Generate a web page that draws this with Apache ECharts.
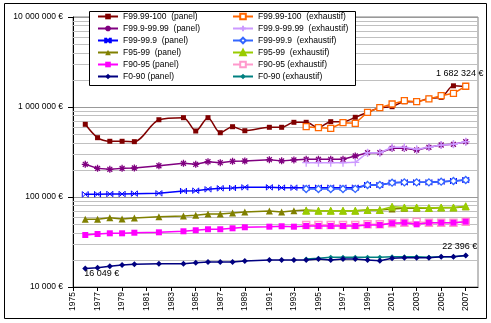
<!DOCTYPE html>
<html>
<head>
<meta charset="utf-8">
<script src="https://cdn.jsdelivr.net/npm/echarts@6/dist/echarts.min.js"></script>
<style>
html,body{margin:0;padding:0;background:#fff;}
#c{width:491px;height:323px;}
</style>
</head>
<body>
<div id="c"></div>
<script>
// ---- data ----
var categories = ['1975','1976','1977','1978','1979','1980','1981','1982','1983','1984','1985','1986','1987','1988','1989','1990','1991','1992','1993','1994','1995','1996','1997','1998','1999','2000','2001','2002','2003','2004','2005','2006','2007','2008'];
var panelYears = ['1976','1977','1978','1979','1980','1982','1984','1985','1986','1987','1988','1989','1991','1992','1993','1994','1995','1996','1997','1998','1999','2000','2001','2002','2003','2004','2005','2006','2007'];
var exhYears = ['1994','1995','1996','1997','1998','1999','2000','2001','2002','2003','2004','2005','2006','2007'];

var p9999_100 = [642000,456000,416000,416000,412000,722000,761000,541000,761000,518000,604000,545000,595000,595000,676000,676000,589000,687000,687000,768000,873000,983000,1008000,1145000,1145000,1250000,1280000,1720000,1682324];
var p999_9999 = [230700,208000,203000,208000,210000,222600,236800,230700,246800,240500,249000,251000,260000,252000,258000,262400,262400,262400,262400,285500,310700,310700,347600,347600,332700,356700,378000,385000,411600];
var p99_999 = [107000,107500,108000,108000,109000,109900,116600,117500,121800,125000,125900,128100,128100,127000,126900,126900,126900,126900,126900,126900,135900,135900,144200,145500,145500,145500,148000,150600,154400];
var p95_99 = [56500,56500,58900,56900,58400,60400,61500,62600,64700,64700,66400,68100,69900,68100,70400,71700,70400,70400,70400,70400,71700,71700,73600,74900,74900,74900,76100,76100,78000];
var p90_95 = [37800,38800,39500,39500,40100,40500,41600,42700,43800,43800,44900,46100,46800,47300,46800,47600,47600,47600,47600,47600,48900,48900,51100,51800,49700,51800,51800,51800,53200];
var p0_90 = [16049,16400,17000,17550,17900,18150,18150,18600,18970,18970,18970,19450,19950,19950,19950,19950,20470,19950,20470,20470,19950,19600,20840,21200,21200,21200,21700,21700,22396];

var e9999_100 = [604000,589000,580000,669000,659000,873000,983000,1080000,1175000,1145000,1228000,1335000,1420000,1700000];
var e999_9999 = [240500,240500,240500,240500,243000,310700,310700,356700,356700,340000,356700,378000,385000,411600];
var e99_999 = [122700,122700,122700,122700,123000,135900,135900,144200,145500,145500,145500,148000,150600,154400];
var e95_99 = [70400,70400,70400,70400,70400,71700,71700,78000,76500,76500,75500,76500,76500,79000];
var e90_95 = [48900,48900,48900,48900,48900,49700,49700,51100,51800,53200,51800,51800,51800,53200];
var e0_90 = [20470,20840,21400,21400,21400,21400,21400,21700,21700,21700,21400,21700,21700,22396];

var panelNames = ['F99.99-100  (panel)','F99.9-99.99  (panel)','F99-99.9  (panel)','F95-99  (panel)','F90-95 (panel)','F0-90 (panel)'];
var exhNames = ['F99.99-100  (exhaustif)','F99.9-99.99  (exhaustif)','F99-99.9  (exhaustif)','F95-99  (exhaustif)','F90-95 (exhaustif)','F0-90 (exhaustif)'];
var yTicks = [10000,100000,1000000,10000000];

// ---- helpers ----
var FONT = 'Liberation Sans, Arial, sans-serif';
function fmt(v){ return Math.round(v).toString().replace(/\B(?=(\d{3})+(?!\d))/g,' ') + ' €'; }
function pairs(years, vals, labels){
  return years.map(function(y,i){
    var d = {value:[y, vals[i]]};
    if (labels && labels[i]) d.label = labels[i];
    return d;
  });
}
var minorGrid = [];
for (var k = 0; k < yTicks.length - 1; k++) {
  for (var m = 2; m <= 9; m++) minorGrid.push({yAxis: yTicks[k]*m});
}
var ASTER = 'path://M5,0L5,10M0,5L10,5M1.5,1.5L8.5,8.5M8.5,1.5L1.5,8.5';
var PLUS = 'path://M5,0L5,10M0,5L10,5';
var XBAR = 'path://M1,1L9,9M9,1L1,9M0,0L0,10M10,0L10,10';

function mk(name, years, vals, color, symbol, size, opts){
  opts = opts || {};
  return {
    name: name, type: 'line', data: pairs(years, vals, opts.labels),
    smooth: opts.smooth || false,
    symbol: symbol, symbolSize: size, showAllSymbol: true,
    lineStyle: {color: color, width: 1.5},
    itemStyle: opts.itemStyle || {color: color},
    z: opts.z || 3,
    label: {show:false, fontFamily: FONT, fontSize: 9, color:'#000', formatter: function(p){ return fmt(p.value[1]); }},
    emphasis: {disabled: true},
    animation: false
  };
}

var labTop = {show:true, position:'top', distance:6, offset:[-6,0]};
var labTop2 = {show:true, position:'top', distance:1, offset:[-6,0]};
var labFirst = {show:true, position:'inside', offset:[16.5,5.5]};
var topLabels = p9999_100.map(function(v,i){ return i === p9999_100.length-1 ? labTop : null; });
var navyLabels = p0_90.map(function(v,i){ return i === 0 ? labFirst : (i === p0_90.length-1 ? labTop2 : null); });

var series = [
  {type:'line', data:[], z:1, silent:true, animation:false,
   markLine:{z:1, silent:true, symbol:'none', animation:false, label:{show:false},
     lineStyle:{color:'#c0c0c0', width:1, type:'solid'}, emphasis:{disabled:true}, data: minorGrid}},
  mk(panelNames[0], panelYears, p9999_100, '#800000', 'rect', 5, {smooth:0.3, labels: topLabels}),
  mk(panelNames[1], panelYears, p999_9999, '#800080', ASTER, 7, {itemStyle:{color:'#800080', borderColor:'#800080', borderWidth:1.3}}),
  mk(panelNames[2], panelYears, p99_999, '#0000FF', XBAR, 6, {itemStyle:{color:'#0000FF', borderColor:'#0000FF', borderWidth:1}}),
  mk(panelNames[3], panelYears, p95_99, '#808000', 'triangle', 7),
  mk(panelNames[4], panelYears, p90_95, '#FF00FF', 'rect', 6),
  mk(panelNames[5], panelYears, p0_90, '#000080', 'diamond', 6, {labels: navyLabels}),
  mk(exhNames[0], exhYears, e9999_100, '#FF6600', 'rect', 6, {itemStyle:{color:'#fff', borderColor:'#FF6600', borderWidth:1.3}, z:4}),
  mk(exhNames[1], exhYears, e999_9999, '#CC99FF', PLUS, 8, {itemStyle:{color:'#CC99FF', borderColor:'#CC99FF', borderWidth:1.3}, z:4}),
  mk(exhNames[2], exhYears, e99_999, '#3366FF', 'diamond', 7, {itemStyle:{color:'#fff', borderColor:'#3366FF', borderWidth:1.3}, z:4}),
  mk(exhNames[3], exhYears, e95_99, '#99CC00', 'triangle', 7, {itemStyle:{color:'#99CC00', borderColor:'#99CC00', borderWidth:1}, z:4}),
  mk(exhNames[4], exhYears, e90_95, '#FF99CC', 'rect', 7, {itemStyle:{color:'#fff', borderColor:'#FF99CC', borderWidth:1.5}, z:2}),
  mk(exhNames[5], exhYears, e0_90, '#008080', 'diamond', 5, {z:2})
];

var legendCommon = {
  orient:'vertical', itemWidth:20, itemHeight:7, itemGap:3,
  textStyle:{fontFamily:FONT, fontSize:8.5, color:'#000'},
  selectedMode:false, padding:0, z:6
};

var chart = echarts.init(document.getElementById('c'), null, {renderer:'canvas'});
chart.setOption({
  animation:false,
  backgroundColor:'#fff',
  grid:{left:73, right:13, top:17, bottom:36, show:true, borderColor:'#808080', borderWidth:1, backgroundColor:'transparent'},
  xAxis:{
    type:'category', data: categories, boundaryGap:false,
    axisLine:{lineStyle:{color:'#000', width:1}},
    axisTick:{show:true, interval:1, length:4, lineStyle:{color:'#000'}},
    axisLabel:{interval:1, rotate:90, margin:5, fontFamily:FONT, fontSize:8.5, color:'#000'},
    splitLine:{show:false}
  },
  yAxis:{
    type:'log', logBase:10, min:yTicks[0], max:yTicks[yTicks.length-1],
    axisLine:{show:true, lineStyle:{color:'#000', width:1}},
    axisTick:{show:true, length:5, lineStyle:{color:'#000'}},
    axisLabel:{margin:10, fontFamily:FONT, fontSize:8.5, color:'#000', formatter: function(v){ return fmt(v); }},
    splitLine:{show:true, lineStyle:{color:'#999', width:1}}
  },
  legend:[
    Object.assign({}, legendCommon, {left:97, top:12, data: panelNames}),
    Object.assign({}, legendCommon, {left:232, top:12, data: exhNames})
  ],
  graphic:{elements:[
    {type:'rect', z:5, silent:true, shape:{x:89.5, y:11.5, width:266, height:74}, style:{fill:'#fff', stroke:'#000', lineWidth:1}},
    {type:'rect', z:10, silent:true, shape:{x:4.5, y:3.5, width:482, height:315}, style:{fill:'none', stroke:'#000', lineWidth:1}}
  ]},
  series: series
});
</script>
</body>
</html>
